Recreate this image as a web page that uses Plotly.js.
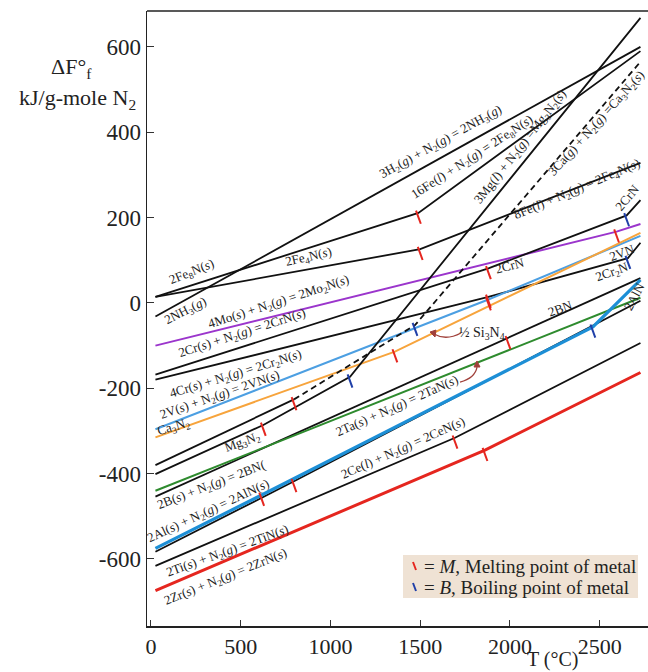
<!DOCTYPE html>
<html><head><meta charset="utf-8">
<script src="https://cdn.plot.ly/plotly-3.0.1.min.js"></script>
<style>html,body{margin:0;padding:0;background:#fff}</style>
</head><body><div id="chart" style="width:648px;height:672px"></div>
<script>
// Temperatures in degC, standard free energy of formation in kJ per g-mole N2
const nh3T=[25,2727], nh3G=[-32,600];
const fe8nT=[25,1490,2727], fe8nG=[14,211,590];
const fe4nT=[25,1500,2727], fe4nG=[14,126,328];
const mo2nT=[25,2594,2727], mo2nG=[-100,167,185];
const crnT=[25,1880,2650,2727], crnG=[-168,81,205,241];
const cr2nT=[25,1880,2657,2727], cr2nG=[-180,14,105,141];
const vnT=[25,1880,2727], vnG=[-296,8,157];
const si3n4T=[25,1359,2727], si3n4G=[-315,-114,164];
const ca3n2T=[25,797], ca3n2G=[-380,-226];
const ca3n2gT=[797,1471,2727], ca3n2gG=[-226,-52,565];
const mg3n2T=[25,626,1109,2727], mg3n2G=[-401,-286,-173,668];
const tanT=[25,2727], tanG=[-440,12];
const bnT=[25,1989,2727], bnG=[-454,-83,58];
const alnT=[25,617,2462,2727], alnG=[-575,-450,-56,54];
const cenT=[25,797,2727], cenG=[-583,-418,5];
const tinT=[25,1694,2727], tinG=[-616,-316,-94];
const zrnT=[25,1861,2727], zrnG=[-674,-345,-163];
// melting (M) and boiling (B) points of the metals
const meltT=[1490,1500,2594,1880,1880,1880,1359,626,797,1989,617,797,1694,1861];
const meltG=[211,126,167,81,14,8,-114,-286,-226,-83,-450,-418,-316,-345];
const boilT=[1109,1471,2650,2657,2462];
const boilG=[-173,-52,205,105,-56];
const xTicks=[0,500,1000,1500,2000,2500];
const yTicks=[-600,-400,-200,0,200,400,600];

const BLACK='#111', PURPLE='#9b35cc', LBLUE='#4c9fe2', ORANGE='#f7a43c',
      GREEN='#2e8b2e', BLUE='#1d8fd6', RED='#e5261f', DBLUE='#1f3fa8', ARROW='#a0403a';
function ln(x,y,color,width,dash){return {x:x,y:y,mode:'lines',type:'scatter',
  line:{color:color,width:width,dash:dash||'solid'},hoverinfo:'skip',showlegend:false};}
const traces=[
  ln(nh3T,nh3G,BLACK,1.8), ln(fe8nT,fe8nG,BLACK,1.8), ln(fe4nT,fe4nG,BLACK,1.8),
  ln(mo2nT,mo2nG,PURPLE,2), ln(crnT,crnG,BLACK,1.8), ln(cr2nT,cr2nG,BLACK,1.8),
  ln(vnT,vnG,LBLUE,2), ln(si3n4T,si3n4G,ORANGE,2),
  ln(ca3n2T,ca3n2G,BLACK,1.8), ln(ca3n2gT,ca3n2gG,BLACK,1.8,'6px,4px'),
  ln(mg3n2T,mg3n2G,BLACK,1.8), ln(bnT,bnG,BLACK,1.8), ln(cenT,cenG,BLACK,1.8),
  ln(tanT,tanG,GREEN,2), ln(alnT,alnG,BLUE,3.2), ln(tinT,tinG,BLACK,1.8),
  ln(zrnT,zrnG,RED,3),
  {x:meltT,y:meltG.map(v=>v-10),mode:'markers',type:'scatter',hoverinfo:'skip',showlegend:false,
   marker:{symbol:'line-ns',size:10,angle:-20,line:{color:RED,width:2}}},
  {x:boilT,y:boilG.map(v=>v-10),mode:'markers',type:'scatter',hoverinfo:'skip',showlegend:false,
   marker:{symbol:'line-ns',size:10,angle:-20,line:{color:DBLUE,width:2}}}
];

// pixel -> paper helpers for text placement
const L=147,R=648,TOP=11,BOT=626;
function px(x){return (x-L)/(R-L);} function py(y){return (BOT-y)/(BOT-TOP);}
const F='Liberation Serif, Times New Roman, serif';
function lab(text,x,y,ang,size){return {text:text,xref:'paper',yref:'paper',x:px(x),y:py(y),
  textangle:ang,showarrow:false,font:{family:F,size:size||13,color:'#222'},xanchor:'center',yanchor:'middle'};}
const s='<i>s</i>', g='<i>g</i>', l='<i>l</i>', N2='N<sub>2</sub>';
const ann=[
  lab('3H<sub>2</sub>('+g+') + '+N2+'('+g+') = 2NH<sub>3</sub>('+g+')',440,142,-29),
  lab('16Fe('+l+') + '+N2+'('+g+') = 2Fe<sub>8</sub>N('+s+')',472,157,-33),
  lab('3Mg('+l+') + '+N2+'('+g+') =Mg<sub>3</sub>N<sub>2</sub>('+s+')',520,147,-52),
  lab('3Ca('+g+') + '+N2+'('+g+') =Ca<sub>3</sub>N<sub>2</sub>('+s+')',597,124,-48),
  lab('8Fe('+l+') + '+N2+'('+g+') = 2Fe<sub>4</sub>N('+s+')',577,189,-23),
  lab('2CrN',627,197,-50),
  lab('2Fe<sub>8</sub>N('+s+')',191,272,-22),
  lab('2NH<sub>3</sub>('+g+')',185,311,-27),
  lab('2Fe<sub>4</sub>N('+s+')',308,257,-13),
  lab('4Mo('+s+') + '+N2+'('+g+') = 2Mo<sub>2</sub>N('+s+')',278,302,-18),
  lab('2Cr('+s+') + '+N2+'('+g+') = 2CrN('+s+')',242,334,-18),
  lab('4Cr('+s+') + '+N2+'('+g+') = 2Cr<sub>2</sub>N('+s+')',235,374,-17),
  lab('2V('+s+') + '+N2+'('+g+') = 2VN('+s+')',219,395,-19),
  lab('Ca<sub>3</sub>N<sub>2</sub>',173,427,-16),
  lab('Mg<sub>3</sub>N<sub>2</sub>',242,442,-20),
  lab('2Ta('+s+') + '+N2+'('+g+') = 2TaN('+s+')',397,406,-24),
  lab('2Ce('+l+') + '+N2+'('+g+') = 2CeN('+s+')',403,448,-24),
  lab('2B('+s+') + '+N2+'('+g+') = 2BN(',211,485,-21),
  lab('2Al('+s+') + '+N2+'('+g+') = 2AlN('+s+')',208,511,-25),
  lab('2Ti('+s+') + '+N2+'('+g+') = 2TiN('+s+')',227,551,-20),
  lab('2Zr('+s+') + '+N2+'('+g+') = 2ZrN('+s+')',225,577,-22),
  lab('2CrN',510,265,-15),
  lab('2VN',622,252,-20),
  lab('2Cr<sub>2</sub>N',612,272,-20),
  lab('2BN',560,309,-20),
  lab('2AlN',634,296,-62),
  lab('½ Si<sub>3</sub>N<sub>4</sub>',482,333,0,14),
  {text:'ΔF°<sub>f</sub>',xref:'paper',yref:'paper',x:px(71),y:py(68),showarrow:false,
   font:{family:F,size:22,color:'#222'},xanchor:'center',yanchor:'middle'},
  {text:'kJ/g-mole N<sub>2</sub>',xref:'paper',yref:'paper',x:px(77),y:py(99),showarrow:false,
   font:{family:F,size:22,color:'#222'},xanchor:'center',yanchor:'middle'},
  {text:'T (°C)',xref:'paper',yref:'paper',x:px(553),y:py(660),showarrow:false,
   font:{family:F,size:20,color:'#222'},xanchor:'center',yanchor:'middle'},
  {text:'= <i>M</i>, Melting point of metal',xref:'paper',yref:'paper',x:px(422),y:py(566),showarrow:false,
   font:{family:F,size:19,color:'#222'},xanchor:'left',yanchor:'middle'},
  {text:'= <i>B</i>, Boiling point of metal',xref:'paper',yref:'paper',x:px(422),y:py(587),showarrow:false,
   font:{family:F,size:19,color:'#222'},xanchor:'left',yanchor:'middle'}
];
function P(x,y){return px(x).toFixed(4)+','+py(y).toFixed(4);}
const shapes=[
  {type:'rect',xref:'paper',yref:'paper',x0:px(403),x1:px(638),y0:py(598),y1:py(555),
   fillcolor:'#efe2d4',line:{width:0},layer:'below'},
  {type:'line',xref:'paper',yref:'paper',x0:px(413),x1:px(416),y0:py(562),y1:py(570),line:{color:RED,width:2}},
  {type:'line',xref:'paper',yref:'paper',x0:px(413),x1:px(416),y0:py(583),y1:py(591),line:{color:DBLUE,width:2}},
  {type:'line',xref:'paper',yref:'paper',x0:0,x1:1,y0:1,y1:1,line:{color:'#222',width:1.5}},
  // curved pointer arrows
  {type:'path',xref:'paper',yref:'paper',path:'M'+P(460,382)+' Q'+P(475,378)+' '+P(477,367),
   line:{color:ARROW,width:1.3}},
  {type:'path',xref:'paper',yref:'paper',path:'M'+P(474,367)+' L'+P(477,361)+' L'+P(480,367)+' Z',
   fillcolor:ARROW,line:{color:ARROW,width:1}},
  {type:'path',xref:'paper',yref:'paper',path:'M'+P(461,333)+' Q'+P(446,341)+' '+P(434,334),
   line:{color:ARROW,width:1.3}},
  {type:'path',xref:'paper',yref:'paper',path:'M'+P(436,330)+' L'+P(430,332)+' L'+P(435,337)+' Z',
   fillcolor:ARROW,line:{color:ARROW,width:1}}
];
const layout={width:648,height:672,margin:{l:147,r:0,t:11,b:46},
  paper_bgcolor:'#fff',plot_bgcolor:'#fff',showlegend:false,
  xaxis:{range:[-22,2769],tickvals:xTicks,ticktext:xTicks.map(String),ticks:'inside',ticklen:6,
    tickcolor:'#333',showline:true,linecolor:'#222',linewidth:1.5,showgrid:false,zeroline:false,
    tickfont:{family:F,size:22,color:'#222'}},
  yaxis:{range:[-757,684],tickvals:yTicks,ticktext:yTicks.map(String),ticks:'inside',ticklen:7,
    tickcolor:'#333',showline:true,linecolor:'#222',linewidth:1.5,showgrid:false,zeroline:false,
    tickfont:{family:F,size:23,color:'#222'}},
  annotations:ann,shapes:shapes};
Plotly.newPlot('chart',traces,layout,{displayModeBar:false,staticPlot:true});
</script></body></html>
